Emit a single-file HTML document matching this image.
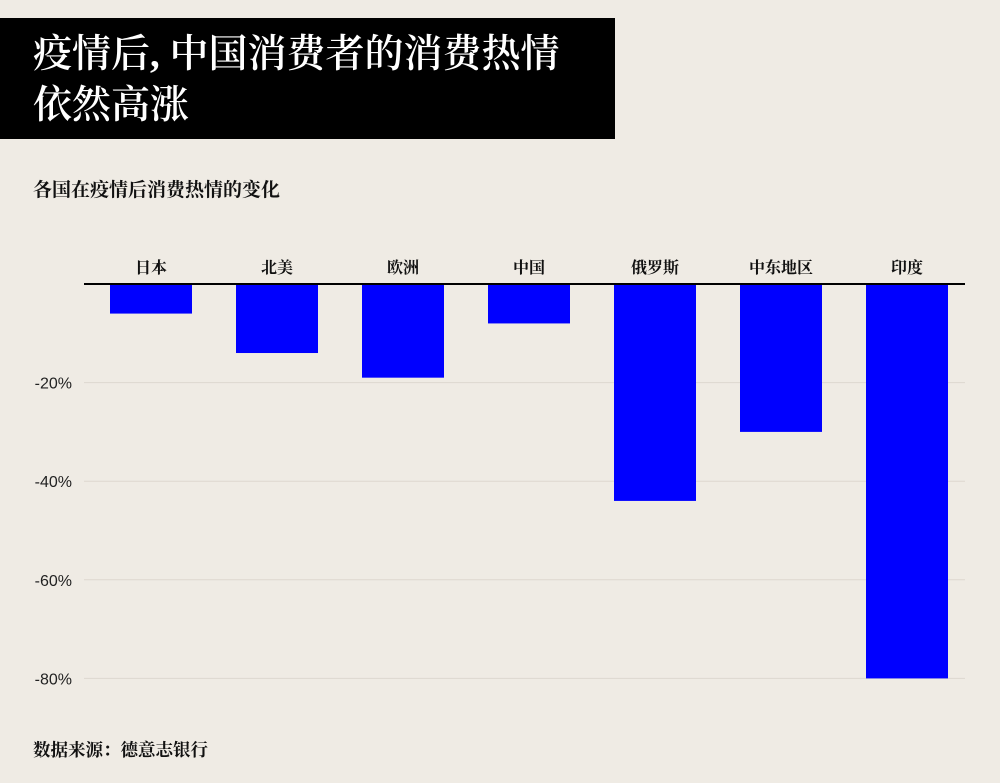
<!DOCTYPE html>
<html><head><meta charset="utf-8">
<style>
body{margin:0;background:#efebe4;width:1000px;height:783px;overflow:hidden;position:relative;font-family:"Liberation Sans","Noto Sans CJK SC",sans-serif;}
#title{position:absolute;left:0;top:18px;width:615px;height:121px;background:#000;color:#fff;font-family:"Liberation Serif","Noto Serif CJK SC",serif;font-size:39px;line-height:51px;padding:11px 0 0 33px;box-sizing:border-box;font-weight:600;white-space:nowrap;}
#sub{position:absolute;left:33px;top:175px;font-size:19px;font-weight:bold;color:#111;font-family:"Liberation Serif","Noto Serif CJK SC",serif;}
#src{position:absolute;left:33px;top:737px;font-size:17.5px;font-weight:bold;color:#111;font-family:"Liberation Serif","Noto Serif CJK SC",serif;}
svg{position:absolute;left:0;top:0;}
</style></head><body>
<div id="title">疫情后, 中国消费者的消费热情<br>依然高涨</div>
<div id="sub">各国在疫情后消费热情的变化</div>
<div id="src">数据来源：德意志银行</div>
<svg id="chart" width="1000" height="783"></svg>
<script>
const categories=["日本","北美","欧洲","中国","俄罗斯","中东地区","印度"];
const values=[-6,-14,-19,-8,-44,-30,-80];
const ticks=[-20,-40,-60,-80];
const tickLabels=["-20%","-40%","-60%","-80%"];
const svg=document.getElementById('chart');
const NS="http://www.w3.org/2000/svg";
const y0=284,pxPer=4.93;
const y=v=>y0-v*pxPer;
const x=i=>110+i*126;
const bw=82;
function mk(t,a){const e=document.createElementNS(NS,t);for(const k in a)e.setAttribute(k,a[k]);svg.appendChild(e);return e;}
ticks.forEach((t,i)=>{
 const g=mk('line',{x1:84,x2:965,y1:y(t),y2:y(t),stroke:'#ddd8cf','stroke-width':1});
 
 
 const l=mk('text',{x:72,y:y(t)+6,'text-anchor':'end','font-size':16,fill:'#222','font-family':'Liberation Sans, sans-serif'});
 l.textContent=tickLabels[i];
 
 
});
values.forEach((v,i)=>{
 const r=mk('rect',{x:x(i),y:Math.min(y0,y(v)),width:bw,height:Math.abs(y(v)-y0),fill:'#0000ff'});
 
 
 const t=mk('text',{x:x(i)+bw/2,y:273,'text-anchor':'middle','font-size':16,'font-weight':'bold',fill:'#111','font-family':'Liberation Serif, Noto Serif CJK SC, serif'});
 t.textContent=categories[i];
 
 
});
const z=mk('line',{x1:84,x2:965,y1:y0,y2:y0,stroke:'#000','stroke-width':2});


</script>
</body></html>
